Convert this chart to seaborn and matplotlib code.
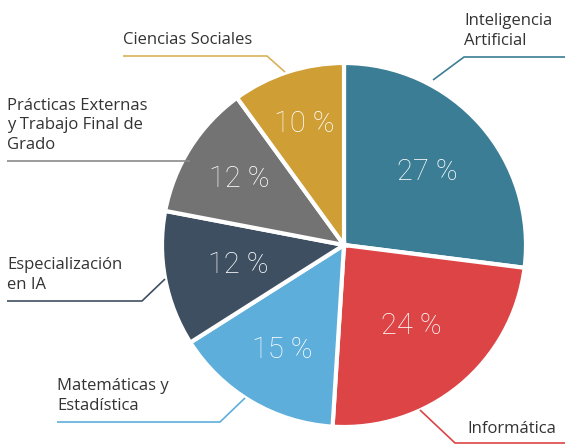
import matplotlib
matplotlib.use("Agg")
import matplotlib.pyplot as plt
import numpy as np
import seaborn as sns

# datos del grafico
areas = ["Inteligencia\nArtificial", "Informática", "Matemáticas y\nEstadística",
         "Especialización\nen IA", "Prácticas Externas\ny Trabajo Final de\nGrado",
         "Ciencias Sociales"]
porcentajes = [27, 24, 15, 12, 12, 10]
colores = ["#3b7d94", "#dc4446", "#5eaedc", "#3e4f62", "#737373", "#cf9e34"]
colores_linea = ["#3b7d94", "#dc4446", "#5eaedc", "#3e4f62", "#8a8a8a", "#d9b15a"]
# distancia radial de cada porcentaje (fraccion del radio)
dist_pct = [0.61, 0.58, 0.67, 0.59, 0.68, 0.70]

sns.set_theme(style="white")
plt.rcParams["font.family"] = ["Roboto", "DejaVu Sans"]

W, H = 565, 446
fig = plt.figure(figsize=(W / 100, H / 100), dpi=100)
ax = fig.add_axes([0, 0, 1, 1])

cx, cy, R = 344, H - 245, 182
wedges, texts, autotexts = ax.pie(
    porcentajes, colors=colores, startangle=90, counterclock=False,
    center=(cx, cy), radius=R, autopct=lambda p: f"{round(p):d} %",
    pctdistance=0.6, wedgeprops=dict(edgecolor="white", linewidth=3),
    textprops=dict(color="white", fontsize=21, fontweight="light"))

for w, t, d in zip(wedges, autotexts, dist_pct):
    ang = np.deg2rad((w.theta1 + w.theta2) / 2)
    t.set_position((cx + d * R * np.cos(ang), cy + d * R * np.sin(ang)))

# etiquetas con lineas guia (coordenadas en pixeles, y hacia abajo)
guias = [
    [(433, 80), (464, 57), (565, 57)],
    [(420, 410), (455, 443), (565, 443)],
    [(245, 398), (220, 422), (57, 422)],
    [(165, 279), (142, 301), (7, 301)],
    [(190, 161), (7, 161)],
    [(285, 72), (267, 56), (123, 56)],
]
pos_texto = [(464, 49, "left"), (467, 437, "left"), (57, 414, "left"),
             (7, 293, "left"), (7, 153, "left"), (123, 48, "left")]

for area, guia, (tx, ty, ha), col in zip(areas, guias, pos_texto, colores_linea):
    xs = [p[0] for p in guia]
    ys = [H - p[1] for p in guia]
    ax.plot(xs, ys, color=col, linewidth=1.2, solid_capstyle="butt")
    ax.text(tx, H - ty, area, ha=ha, va="bottom", fontsize=12,
            color="#333333", linespacing=1.3, family=["Open Sans", "DejaVu Sans"])

ax.set_xlim(0, W)
ax.set_ylim(0, H)
ax.set_aspect("equal")
ax.axis("off")

fig.savefig("out.png", dpi=100)
